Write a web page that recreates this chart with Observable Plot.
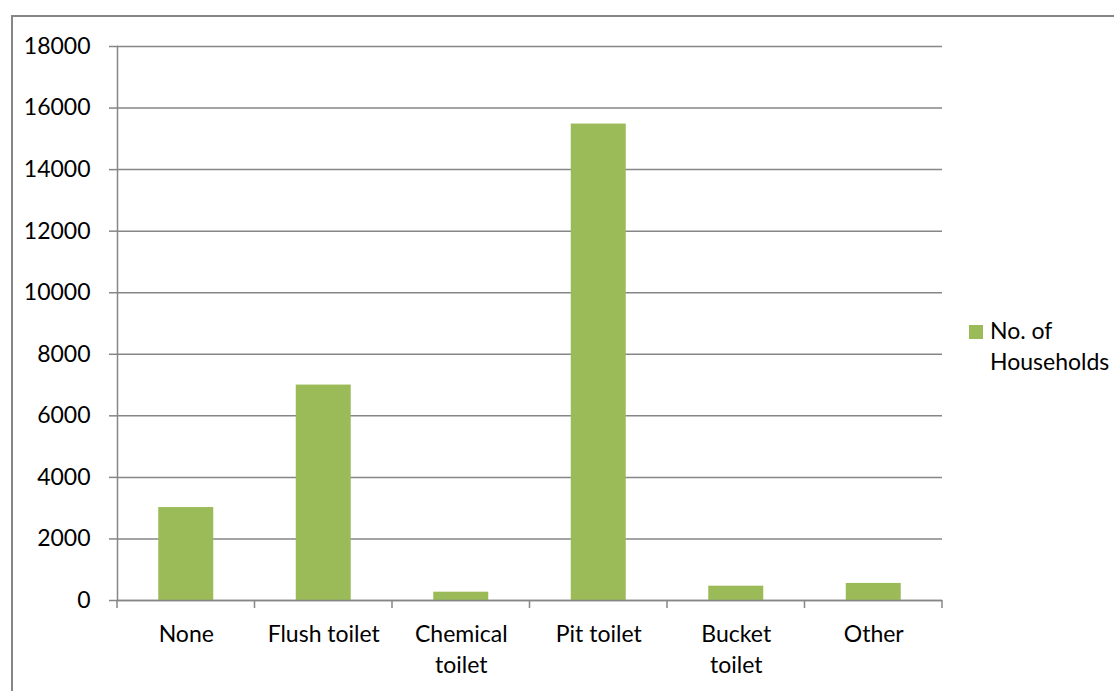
<!DOCTYPE html>
<html>
<head>
<meta charset="utf-8">
<script src="https://cdn.jsdelivr.net/npm/d3@7"></script>
<script src="https://cdn.jsdelivr.net/npm/@observablehq/plot@0.6"></script>
<style>
  html, body { margin: 0; padding: 0; background: #fff; }
  #wrap { position: relative; width: 1114px; height: 691px; overflow: hidden; font-family: Lato, "Open Sans", sans-serif; }
  #border { position: absolute; left: 11px; top: 15px; width: 1300px; height: 900px; border: 2px solid #868686; box-sizing: border-box; pointer-events: none; }
  #legend { position: absolute; left: 969px; top: 315px; font-size: 23px; line-height: 31px; color: #000; }
  #legend .sw { position: absolute; left: 0; top: 10px; width: 14px; height: 14px; background: #9BBB59; }
  #legend .lbl { position: absolute; left: 21px; top: 0; white-space: nowrap; }
</style>
</head>
<body>
<div id="wrap">
  <div id="chart"></div>
  <div id="border"></div>
  <div id="legend"><div class="sw"></div><div class="lbl">No. of<br>Households</div></div>
</div>
<script>
// Household sanitation: number of households by toilet type
const categories = ["None", "Flush toilet", "Chemical toilet", "Pit toilet", "Bucket toilet", "Other"];
const tickLabels = ["None", "Flush toilet", "Chemical\ntoilet", "Pit toilet", "Bucket\ntoilet", "Other"];
const households = [3020, 7000, 270, 15480, 465, 555];
const yTicks = [0, 2000, 4000, 6000, 8000, 10000, 12000, 14000, 16000, 18000];

const GRAY = "#868686";
const GREEN = "#9BBB59";

// Tick marks drawn at the boundaries between category bands
function bandBoundaryTicks(index, scales, values, dimensions) {
  const x = scales.x;
  const bw = x.bandwidth();
  const step = x.step ? x.step() : x(categories[1]) - x(categories[0]);
  const gap = (step - bw) / 2;
  const edges = categories.map(c => x(c) - gap);
  edges.push(x(categories[categories.length - 1]) + bw + gap);
  const y0 = dimensions.height - dimensions.marginBottom;
  const g = d3.create("svg:g");
  g.selectAll("line").data(edges).join("line")
    .attr("x1", d => d).attr("x2", d => d)
    .attr("y1", y0).attr("y2", y0 + 8)
    .attr("stroke", GRAY).attr("stroke-width", 1.5);
  return g.node();
}

const chart = Plot.plot({
  width: 1114,
  height: 691,
  marginLeft: 117,
  marginRight: 172,
  marginTop: 46,
  marginBottom: 91,
  style: { fontFamily: "Lato, 'Open Sans', sans-serif", fontSize: "23px", color: "#000", background: "transparent" },
  x: { type: "band", domain: categories, paddingInner: 0.6, paddingOuter: 0.3, round: false, label: null },
  y: { domain: [0, 18000], label: null },
  marks: [
    Plot.gridY(yTicks, { stroke: GRAY, strokeOpacity: 1, strokeWidth: 1.5 }),
    Plot.barY(households, { x: categories, y: households, fill: GREEN }),
    Plot.ruleY([0], { stroke: GRAY, strokeWidth: 1.5 }),
    Plot.frame({ anchor: "left", stroke: GRAY, strokeWidth: 1.5 }),
    Plot.axisY(yTicks, { tickSize: 8, tickPadding: 19, stroke: GRAY, strokeWidth: 1.5, fill: "#000", fontSize: 23, label: null, tickFormat: d => String(d) }),
    Plot.axisX({ tickSize: 0, tickPadding: 19, fill: "#000", fontSize: 23, lineHeight: 1.35, label: null,
      tickFormat: d => tickLabels[categories.indexOf(d)] }),
    bandBoundaryTicks
  ]
});
document.getElementById("chart").appendChild(chart);
</script>
</body>
</html>
